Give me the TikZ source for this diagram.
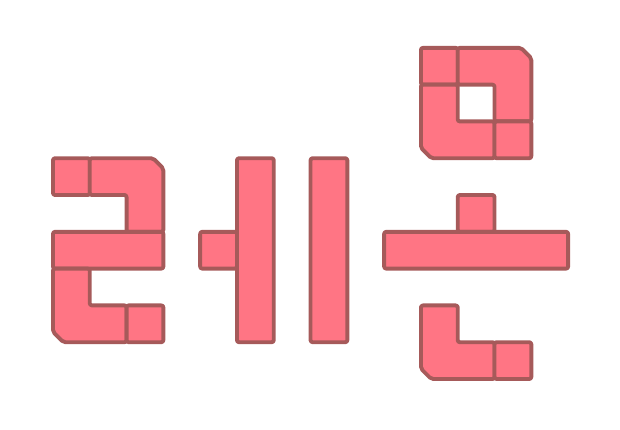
\documentclass[tikz,border=0pt]{standalone}
\usepackage{tikz}

\definecolor{tilefill}{HTML}{FF7584}
\definecolor{tileline}{HTML}{A65A5A}

\begin{document}
\begin{tikzpicture}[
    tile/.style={fill=tilefill, draw=tileline, line width=3pt, rounded corners=1.6pt, line join=round}
    ]

            \useasboundingbox (0,0) rectangle (16.85,-11.68);

            \begin{scope}[shift={(1.44,-1.30)}, y={(0,-1cm)}]

                % first letter
                \draw[tile] (0,3) rectangle (1,4);
                \draw[tile] (1,3) -- (2.72,3) -- (3,3.28) -- (3,5) -- (2,5) -- (2,4) -- (1,4) -- cycle;
                \draw[tile] (0,5) rectangle (3,6);
                \draw[tile] (0,6) -- (1,6) -- (1,7) -- (2,7) -- (2,8) -- (0.28,8) -- (0,7.72) -- cycle;
                \draw[tile] (2,7) rectangle (3,8);

                % vowel
                \draw[tile] (4,5) rectangle (5,6);
                \draw[tile] (5,3) rectangle (6,8);
                \draw[tile] (7,3) rectangle (8,8);

                % ring
                \draw[tile] (10,0) rectangle (11,1);
                \draw[tile] (11,0) -- (12.72,0) -- (13,0.28) -- (13,2) -- (12,2) -- (12,1) -- (11,1) -- cycle;
                \draw[tile] (10,1) -- (11,1) -- (11,2) -- (12,2) -- (12,3) -- (10.28,3) -- (10,2.72) -- cycle;
                \draw[tile] (12,2) rectangle (13,3);

                % bar
                \draw[tile] (11,4) rectangle (12,5);
                \draw[tile] (9,5) rectangle (14,6);

                % final
                \draw[tile] (10,7) -- (11,7) -- (11,8) -- (12,8) -- (12,9) -- (10.28,9) -- (10,8.72) -- cycle;
                \draw[tile] (12,8) rectangle (13,9);

            \end{scope}

            \end{tikzpicture}
\end{document}
